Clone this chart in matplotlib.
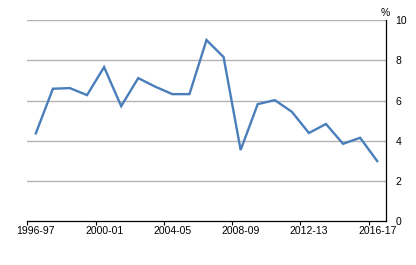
import matplotlib
matplotlib.use("Agg")
import matplotlib.pyplot as plt
from matplotlib.ticker import FixedLocator

plt.rcParams['font.family'] = ['Liberation Sans', 'DejaVu Sans']

years = ["1996-97", "1997-98", "1998-99", "1999-00", "2000-01", "2001-02", "2002-03",
         "2003-04", "2004-05", "2005-06", "2006-07", "2007-08", "2008-09", "2009-10",
         "2010-11", "2011-12", "2012-13", "2013-14", "2014-15", "2015-16", "2016-17"]
values = [4.36, 6.59, 6.62, 6.27, 7.67, 5.72, 7.12, 6.69, 6.32, 6.32, 9.02,
          8.17, 3.53, 5.82, 6.02, 5.44, 4.38, 4.83, 3.84, 4.14, 2.98]
yticks = [0, 2, 4, 6, 8, 10]
label_every = 4

fig = plt.figure(figsize=(4.16, 2.65), dpi=100)
ax = fig.add_axes([0.0656, 0.167, 0.8616, 0.756])

x = list(range(len(years)))
ax.plot(x, values, color='#4A7EBB', linewidth=1.7, solid_joinstyle='miter', zorder=3)

ax.set_xlim(-0.5, len(years) - 0.5)
ax.set_ylim(0, 10)

# y axis on the right
ax.yaxis.tick_right()
ax.set_yticks(yticks)
ax.set_yticklabels([str(t) for t in yticks])
ax.tick_params(axis='y', length=0, pad=7, labelsize=7.5, colors='black')
for t in yticks[1:]:
    ax.axhline(t, color='#b3b3b3', linewidth=1.0, zorder=1)

# x axis: labels at category centres, tick marks at category boundaries
lab_pos = x[::label_every]
ax.set_xticks(lab_pos)
ax.set_xticklabels([years[i] for i in lab_pos])
ax.tick_params(axis='x', which='major', length=0, pad=4, labelsize=7.5)
ax.xaxis.set_minor_locator(FixedLocator([p - 0.5 for p in lab_pos]))
ax.tick_params(axis='x', which='minor', length=3, width=0.8, direction='out', color='black')

for s in ['top', 'left']:
    ax.spines[s].set_visible(False)
ax.spines['bottom'].set_color('black')
ax.spines['bottom'].set_linewidth(0.9)
ax.spines['right'].set_color('black')
ax.spines['right'].set_linewidth(0.9)

fig.text(385 / 416, 1 - 13.5 / 265, '%', ha='center', va='center', fontsize=7.5)

fig.savefig('out.png', dpi=100)
